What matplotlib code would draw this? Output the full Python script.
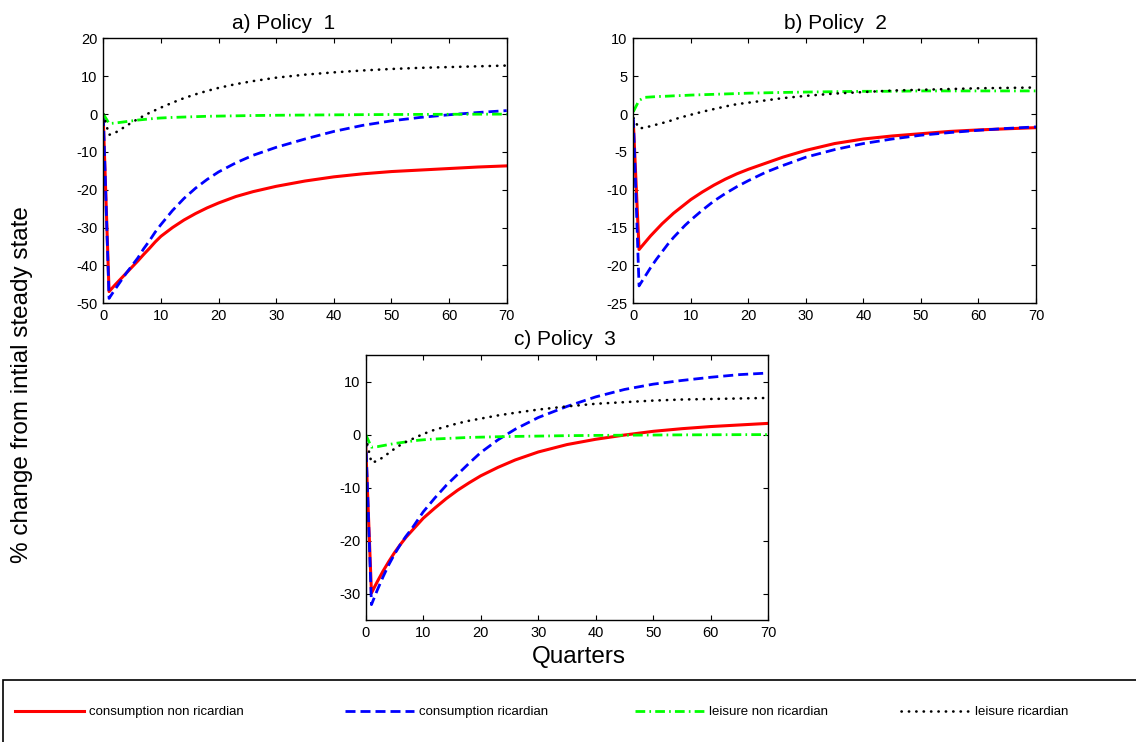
import matplotlib
matplotlib.use("Agg")
import matplotlib.pyplot as plt
from matplotlib.lines import Line2D
from matplotlib.patches import Rectangle

plt.rcParams['font.family'] = ['Liberation Sans', 'DejaVu Sans']
plt.rcParams['axes.unicode_minus'] = False

# ---------------- data ----------------
quarters = [0, 1, 2, 3, 4, 5, 6, 7, 8, 9, 10, 12, 14, 16, 18, 20, 23, 26, 30, 35, 40, 45, 50, 55, 60, 65, 70]

# Policy 1
p1_cons_nonric = [-1.5, -46.9, -45.2, -43.6, -42.0, -40.4, -38.8, -37.1, -35.5, -33.8, -32.3, -30.0, -28.0, -26.3, -24.8, -23.5, -21.8, -20.5, -19.1, -17.7, -16.6, -15.8, -15.2, -14.8, -14.4, -14.0, -13.7]
p1_cons_ric = [-0.5, -48.7, -46.4, -44.2, -42.0, -40.0, -38.0, -35.6, -33.5, -31.2, -29.2, -25.5, -22.3, -19.6, -17.3, -15.3, -12.9, -10.9, -8.8, -6.6, -4.6, -3.0, -1.8, -0.9, -0.2, 0.4, 0.9]
p1_leis_nonric = [0.0, -2.5, -2.4, -2.2, -2.0, -1.8, -1.6, -1.45, -1.3, -1.15, -1.05, -0.9, -0.8, -0.7, -0.6, -0.55, -0.48, -0.4, -0.33, -0.27, -0.22, -0.17, -0.13, -0.1, -0.07, -0.05, -0.03]
p1_leis_ric = [0.0, -5.5, -5.0, -4.1, -3.1, -2.2, -1.3, -0.5, 0.3, 1.0, 1.7, 3.0, 4.2, 5.2, 6.1, 6.9, 7.9, 8.7, 9.6, 10.4, 11.0, 11.5, 11.9, 12.2, 12.4, 12.6, 12.8]

# Policy 2
p2_cons_nonric = [-1.0, -17.9, -17.0, -16.1, -15.3, -14.5, -13.8, -13.1, -12.5, -11.9, -11.3, -10.3, -9.4, -8.6, -7.9, -7.3, -6.5, -5.7, -4.8, -3.9, -3.3, -2.9, -2.6, -2.3, -2.1, -1.95, -1.8]
p2_cons_ric = [-0.5, -22.7, -21.5, -20.3, -19.2, -18.2, -17.2, -16.3, -15.5, -14.7, -14.0, -12.7, -11.5, -10.5, -9.6, -8.8, -7.7, -6.8, -5.7, -4.7, -3.9, -3.3, -2.8, -2.45, -2.15, -1.9, -1.7]
p2_leis_nonric = [0.3, 1.8, 2.2, 2.25, 2.3, 2.33, 2.36, 2.4, 2.43, 2.46, 2.5, 2.55, 2.6, 2.65, 2.7, 2.75, 2.8, 2.85, 2.9, 2.95, 3.0, 3.0, 3.05, 3.05, 3.05, 3.05, 3.05]
p2_leis_ric = [-0.5, -1.9, -1.8, -1.6, -1.4, -1.2, -1.0, -0.75, -0.5, -0.3, -0.1, 0.3, 0.65, 1.0, 1.3, 1.5, 1.8, 2.1, 2.4, 2.7, 2.9, 3.1, 3.2, 3.3, 3.4, 3.45, 3.5]

# Policy 3
p3_cons_nonric = [-2.0, -29.9, -27.8, -25.8, -24.0, -22.3, -20.8, -19.4, -18.2, -17.0, -15.8, -13.9, -12.1, -10.5, -9.1, -7.8, -6.2, -4.8, -3.3, -1.9, -0.9, -0.1, 0.6, 1.1, 1.5, 1.8, 2.1]
p3_cons_ric = [-0.5, -32.1, -29.4, -26.9, -24.6, -22.6, -20.8, -19.2, -17.8, -16.2, -14.6, -12.0, -9.6, -7.5, -5.4, -3.4, -1.0, 1.0, 3.2, 5.3, 7.1, 8.5, 9.5, 10.2, 10.8, 11.3, 11.6]
p3_leis_nonric = [0.0, -2.4, -2.3, -2.1, -1.9, -1.7, -1.55, -1.4, -1.25, -1.1, -1.0, -0.85, -0.75, -0.65, -0.55, -0.5, -0.42, -0.36, -0.3, -0.22, -0.17, -0.13, -0.1, -0.07, -0.05, -0.03, -0.02]
p3_leis_ric = [-0.5, -5.3, -5.0, -4.3, -3.5, -2.7, -2.0, -1.4, -0.9, -0.4, 0.1, 0.9, 1.5, 2.1, 2.6, 3.0, 3.6, 4.1, 4.7, 5.3, 5.8, 6.1, 6.4, 6.6, 6.7, 6.8, 6.9]

series_labels = ["consumption non ricardian", "consumption ricardian",
                 "leisure non ricardian", "leisure ricardian"]
panel_titles = ["a) Policy  1", "b) Policy  2", "c) Policy  3"]
xticks = [0, 10, 20, 30, 40, 50, 60, 70]
p1_yticks = [-50, -40, -30, -20, -10, 0, 10, 20]
p2_yticks = [-25, -20, -15, -10, -5, 0, 5, 10]
p3_yticks = [-30, -20, -10, 0, 10]

# ---------------- styles ----------------
styles = [
    dict(color='#ff0000', lw=2.2, linestyle='-'),
    dict(color='#0000ff', lw=2.0, linestyle=(0, (3.6, 1.8))),
    dict(color='#00ff00', lw=2.0, linestyle=(0, (3.5, 1.5, 0.6, 1.5))),
    dict(color='black', lw=1.9, linestyle=(0, (0.1, 2.7)), dash_capstyle='round'),
]

W, H = 1136, 742
fig = plt.figure(figsize=(W / 100, H / 100), dpi=100)

def fr(l, b, w, h):
    return [l / W, 1 - b / H, w / W, h / H]

ax1 = fig.add_axes(fr(103.3, 303.3, 403.4, 265))
ax2 = fig.add_axes(fr(633.3, 303.3, 402.7, 265))
ax3 = fig.add_axes(fr(365.7, 620, 402.6, 265))

panels = [
    (ax1, [p1_cons_nonric, p1_cons_ric, p1_leis_nonric, p1_leis_ric], (-50, 20), p1_yticks, 0.448),
    (ax2, [p2_cons_nonric, p2_cons_ric, p2_leis_nonric, p2_leis_ric], (-25, 10), p2_yticks, 0.503),
    (ax3, [p3_cons_nonric, p3_cons_ric, p3_leis_nonric, p3_leis_ric], (-35, 15), p3_yticks, 0.495),
]

for i, (ax, data, ylim, yt, tx) in enumerate(panels):
    for vals, st in zip(data, styles):
        ax.plot(quarters, vals, **st)
    ax.set_xlim(0, 70)
    ax.set_ylim(*ylim)
    ax.set_xticks(xticks)
    ax.set_yticks(yt)
    ax.tick_params(direction='in', top=True, right=True, length=3.5, width=0.8,
                   labelsize=10.5, pad=4)
    for s in ax.spines.values():
        s.set_linewidth(1.0)
    ax.set_title(panel_titles[i], fontsize=15, x=tx, pad=7)

fig.text(22 / W, 1 - 385 / H, "% change from intial steady state", rotation=90,
         ha='center', va='center', fontsize=17.5)
fig.text(579 / W, 1 - 663 / H, "Quarters", ha='center', va='baseline', fontsize=17.5)

# legend frame
fig.patches.append(Rectangle((3 / W, -0.05), 1.2, 0.05 + (1 - 680 / H),
                             transform=fig.transFigure, fill=False,
                             edgecolor='black', linewidth=1.2, clip_on=False))

# legend entries, each placed where it sits in the reference
leg_x = [15, 345, 635, 901]
for lx, lab, st in zip(leg_x, series_labels, styles):
    h = Line2D([], [], **st)
    fig.legend([h], [lab], loc='center left',
               bbox_to_anchor=(lx / W, 1 - 712 / H),
               frameon=False, borderpad=0, borderaxespad=0,
               handlelength=5.2, handletextpad=0.4,
               prop=dict(size=9.5))

fig.savefig("out.png", dpi=100)
